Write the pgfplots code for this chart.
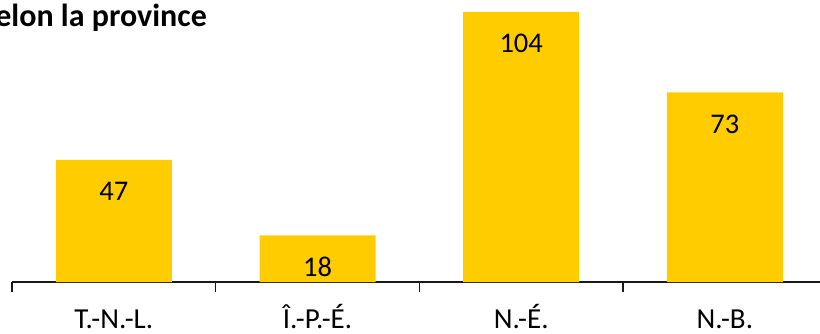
\documentclass[border=0pt]{standalone}
\usepackage{fontspec}
\setmainfont{Carlito}
\usepackage{pgfplots}
\pgfplotsset{compat=1.18}
\definecolor{baryellow}{HTML}{FFCC00}
\begin{document}
\begin{tikzpicture}[x=1bp,y=1bp]
\begin{axis}[
  at={(12bp,51bp)}, anchor=south west,
  scale only axis, width=814.7bp, height=285.6bp,
  xmin=-0.5, xmax=3.5, ymin=0, ymax=110,
  /pgf/number format/assume math mode=true,
  axis x line=bottom, axis y line=none,
  x axis line style={-, draw=black!90, line width=1.6bp},
  xtick={0,1,2,3},
  xticklabels={T.-N.-L., Î.-P.-É., N.-É., N.-B.},
  major tick length=0pt,
  minor xtick={-0.5,0.5,1.5,2.5,3.5},
  minor tick length=10bp,
  tick align=outside,
  minor tick style={draw=black!90, line width=1.6bp},
  ytick=\empty,
  xticklabel style={font=\fontsize{29bp}{31bp}\selectfont, anchor=base, yshift=-46bp},
  ybar, bar width=116bp,
  nodes near coords,
  every node near coord/.append style={anchor=base, yshift=-41bp, font=\fontsize{28.5bp}{30bp}\selectfont, black},
  clip=false,
]
\addplot[fill=baryellow, draw=none] coordinates {(0,47) (1,18) (2,104) (3,73)};
\end{axis}
\node[anchor=base east, inner sep=0pt, font=\bfseries\fontsize{32bp}{34bp}\selectfont] at (207,307) {selon la province};
\pgfresetboundingbox
\path[use as bounding box] (0,0) rectangle (820,333);
\end{tikzpicture}
\end{document}
